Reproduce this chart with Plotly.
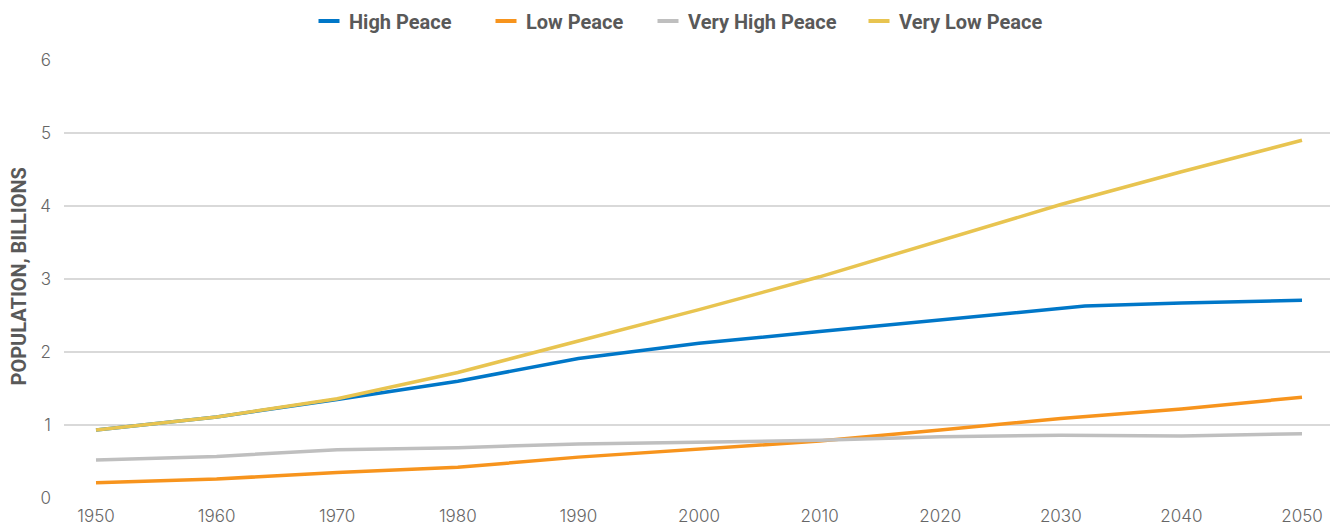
import plotly.graph_objects as go

years = [1950, 1960, 1970, 1980, 1990, 2000, 2010, 2020, 2030, 2040, 2050]
years_high = [1950, 1960, 1970, 1980, 1990, 2000, 2010, 2020, 2032, 2040, 2050]

high_peace = [0.93, 1.11, 1.35, 1.60, 1.91, 2.12, 2.28, 2.44, 2.63, 2.67, 2.71]
low_peace = [0.21, 0.26, 0.35, 0.42, 0.56, 0.67, 0.78, 0.93, 1.09, 1.22, 1.38]
very_high_peace = [0.52, 0.57, 0.66, 0.69, 0.74, 0.76, 0.79, 0.84, 0.86, 0.85, 0.88]
very_low_peace = [0.93, 1.11, 1.36, 1.72, 2.15, 2.58, 3.03, 3.52, 4.02, 4.47, 4.90]

series_names = ["High Peace", "Low Peace", "Very High Peace", "Very Low Peace"]
series_x = [years_high, years, years, years]
series_y = [high_peace, low_peace, very_high_peace, very_low_peace]
series_colors = ["#0077C8", "#F7941D", "#BFBFBF", "#E8C450"]

tick_years = [1950, 1960, 1970, 1980, 1990, 2000, 2010, 2020, 2030, 2040, 2050]
y_ticks = [0, 1, 2, 3, 4, 5, 6]

# the page body has an 8px default margin, so figure coords = screen coords - 8
OFF = 8
W, H = 1340, 525
L, T = 64 - OFF, 60 - OFF
PW, PH = 1266, 438
R = W - L - PW
B = H - T - PH

# legend text start positions (screen px) for each of the four legend entries
legend_text_px = [349, 526, 688, 899]
legend_ids = ["legend", "legend2", "legend3", "legend4"]

fig = go.Figure()
for name, xs, ys, color in zip(series_names, series_x, series_y, series_colors):
    fig.add_trace(go.Scatter(
        x=xs, y=ys, name=name, mode="lines",
        line=dict(color=color, width=3.5),
        showlegend=False,
    ))
for name, color, lid in zip(series_names, series_colors, legend_ids):
    fig.add_trace(go.Scatter(
        x=[None], y=[None], name=name, mode="markers",
        marker=dict(symbol="line-ew", size=15, color=color,
                    line=dict(color=color, width=4)),
        showlegend=True, legend=lid,
    ))

legend_font = dict(family="Roboto, sans-serif", size=20, color="#595959", weight="bold")
legend_layouts = {}
for lid, tx in zip(legend_ids, legend_text_px):
    legend_layouts[lid] = dict(
        orientation="h", xref="paper", x=(tx - OFF - 40 - L) / PW, xanchor="left",
        yref="container", y=1 - (21 - OFF) / H, yanchor="middle",
        font=legend_font, bgcolor="rgba(0,0,0,0)", borderwidth=0,
        itemwidth=30,
    )

fig.update_layout(
    width=W, height=H,
    margin=dict(l=L, r=R, t=T, b=B, autoexpand=False),
    paper_bgcolor="white", plot_bgcolor="white",
    font=dict(family="Inter, Roboto, sans-serif", color="#666666", size=16),
    xaxis=dict(
        range=[1950 - 32 / 12.06, 2050 + 28 / 12.06],
        tickvals=tick_years, ticktext=[str(t) for t in tick_years],
        showgrid=False, zeroline=False, showline=False,
        ticks="", tickfont=dict(family="Inter, sans-serif", size=17, color="#666666", weight=300),
        ticklabelstandoff=6,
    ),
    yaxis=dict(
        range=[0, 6], tickvals=y_ticks,
        showgrid=True, gridcolor="#D9D9D9", gridwidth=1.5,
        zeroline=False, showline=False, ticks="",
        tickfont=dict(family="Inter, sans-serif", size=17, color="#666666", weight=300),
        ticklabelstandoff=12,
    ),
    annotations=[dict(
        text="POPULATION, BILLIONS", textangle=-90,
        xref="paper", yref="paper", x=(18.5 - OFF - L) / PW, y=(498 - 277) / PH,
        xanchor="center", yanchor="middle", showarrow=False,
        font=dict(family="Roboto, sans-serif", size=20, color="#595959", weight="bold"),
    )],
    **legend_layouts,
)

fig.write_html("out.html")
